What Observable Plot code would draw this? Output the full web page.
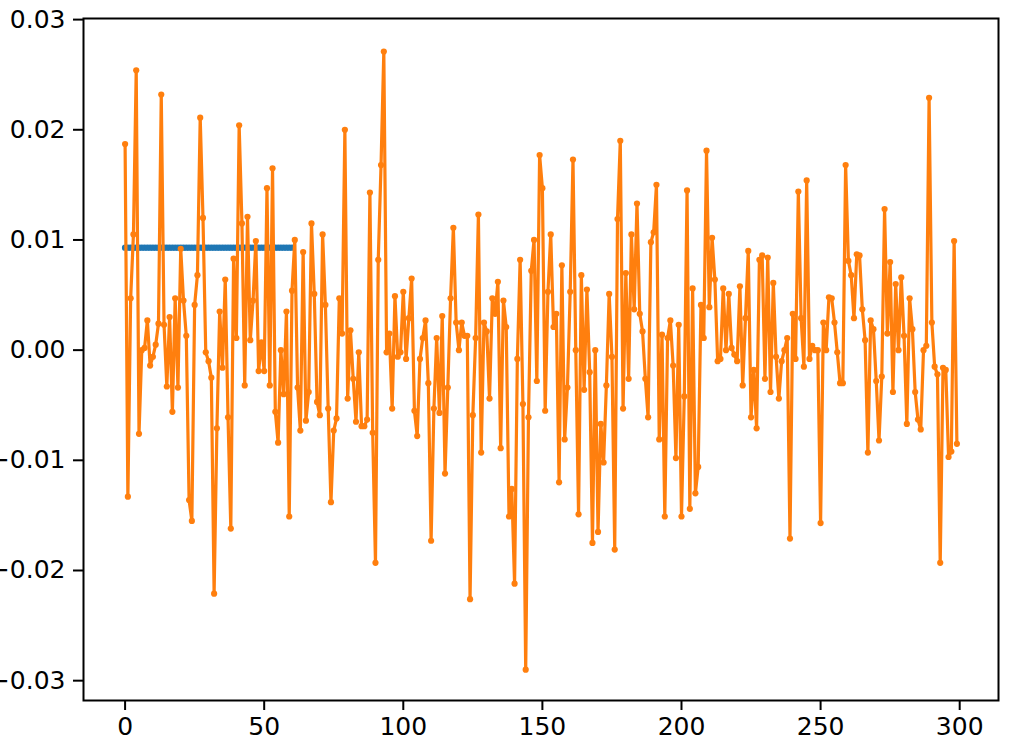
<!DOCTYPE html>
<html>
<head>
<meta charset="utf-8">
<script src="https://cdn.jsdelivr.net/npm/d3@7"></script>
<script src="https://cdn.jsdelivr.net/npm/@observablehq/plot@0.6"></script>
<style>
  html, body { margin: 0; padding: 0; background: white; }
  #chart { width: 1035px; height: 747px; overflow: hidden; }
</style>
</head>
<body>
<div id="chart"></div>
<script>
// Orange series: values for x = 0 .. 299
const orangeY = [
  0.0187, -0.0133, 0.0047, 0.0105, 0.0254, -0.0076, 0.0, 0.0002, 0.0027, -0.0014,
  -0.0006, 0.0005, 0.0024, 0.0232, 0.0023, -0.0033, 0.003, -0.0056, 0.0047, -0.0034,
  0.0092, 0.0045, 0.0013, -0.0136, -0.0155, 0.0041, 0.0068, 0.0211, 0.012, -0.0002,
  -0.001, -0.0025, -0.0221, -0.0071, 0.0035, -0.0016, 0.0064, -0.0061, -0.0162, 0.0083,
  0.0011, 0.0204, 0.0115, -0.0032, 0.0121, 0.0009, 0.0045, 0.0099, -0.0019, 0.0007,
  -0.0019, 0.0147, -0.0032, 0.0165, -0.0056, -0.0084, 0.0, -0.004, 0.0035, -0.0151,
  0.0054, 0.01, -0.0034, -0.0073, 0.0089, -0.0064, -0.0038, 0.0115, 0.0051, -0.0047,
  -0.0059, 0.0105, 0.0041, -0.0053, -0.0138, -0.0073, -0.0062, 0.0047, 0.0015, 0.02,
  -0.0044, 0.0018, -0.0026, -0.0065, -0.0002, -0.0069, -0.0069, -0.0063, 0.0143, -0.0075,
  -0.0193, 0.0082, 0.0168, 0.0271, -0.0002, 0.0015, -0.0053, 0.0049, -0.0006, -0.0002,
  0.0053, -0.0008, 0.0029, 0.0065, -0.0055, -0.0078, -0.0008, 0.0011, 0.0027, -0.003,
  -0.0173, -0.0053, 0.0011, -0.0057, 0.0031, -0.0112, -0.0034, 0.0047, 0.0111, 0.0025,
  0.0, 0.0025, 0.0013, 0.0013, -0.0226, -0.0059, 0.0011, 0.0123, -0.0093, 0.0025,
  0.0017, -0.0044, 0.0047, 0.0033, 0.0062, -0.0089, 0.0045, 0.0021, -0.0151, -0.0126,
  -0.0212, -0.0008, 0.0082, -0.0049, -0.029, -0.0061, 0.0072, 0.01, -0.0028, 0.0177,
  0.0147, -0.0055, 0.0053, 0.0105, 0.0021, 0.0033, -0.012, 0.0077, -0.0081, -0.0034,
  0.0053, 0.0173, 0.0, -0.0149, 0.0068, -0.0036, 0.0055, -0.002, -0.0175, 0.0,
  -0.0165, -0.0067, -0.0102, -0.0032, 0.0051, -0.0006, -0.0181, 0.0119, 0.019, -0.0053,
  0.007, -0.0026, 0.0105, 0.0037, 0.0133, 0.0033, 0.0017, -0.0026, -0.0061, 0.0098,
  0.0107, 0.015, -0.0081, 0.0014, -0.0151, 0.0011, 0.0027, -0.0014, -0.0098, 0.0023,
  -0.0151, -0.0042, 0.0145, -0.0144, 0.0056, -0.013, -0.0106, 0.0041, 0.0011, 0.0181,
  0.0039, 0.0102, 0.0064, -0.001, -0.0008, 0.0056, 0.0, 0.0051, 0.0002, -0.0004,
  -0.001, 0.0058, -0.0032, 0.0029, 0.009, -0.0061, -0.0018, -0.0071, 0.0082, 0.0086,
  -0.0026, 0.0084, -0.0038, 0.0061, -0.0006, -0.0044, -0.001, 0.0, 0.0011, -0.0171,
  0.0033, -0.0008, 0.0144, 0.0029, -0.0015, 0.0154, -0.0008, 0.0004, 0.0, 0.0,
  -0.0157, 0.0025, 0.0, 0.0048, 0.0047, 0.0025, -0.0002, -0.003, -0.003, 0.0168,
  0.0081, 0.0068, 0.0029, 0.0087, 0.0086, 0.0037, 0.0009, -0.0093, 0.0027, 0.0019,
  -0.0028, -0.0082, -0.0024, 0.0128, 0.0015, 0.008, -0.0038, 0.006, 0.0, 0.0066,
  0.0013, -0.0067, 0.0047, 0.0019, -0.0038, -0.0063, -0.0072, 0.0, 0.0004, 0.0229,
  0.0025, -0.0015, -0.0022, -0.0193, -0.0016, -0.0018, -0.0097, -0.0092, 0.0099, -0.0085
];
const orangeX = orangeY.map((_, i) => i);

// Blue series: flat segment for x = 0 .. 60
const blueY = [
  0.0093, 0.0093, 0.0093, 0.0093, 0.0093, 0.0093, 0.0093, 0.0093, 0.0093, 0.0093,
  0.0093, 0.0093, 0.0093, 0.0093, 0.0093, 0.0093, 0.0093, 0.0093, 0.0093, 0.0093,
  0.0093, 0.0093, 0.0093, 0.0093, 0.0093, 0.0093, 0.0093, 0.0093, 0.0093, 0.0093,
  0.0093, 0.0093, 0.0093, 0.0093, 0.0093, 0.0093, 0.0093, 0.0093, 0.0093, 0.0093,
  0.0093, 0.0093, 0.0093, 0.0093, 0.0093, 0.0093, 0.0093, 0.0093, 0.0093, 0.0093,
  0.0093, 0.0093, 0.0093, 0.0093, 0.0093, 0.0093, 0.0093, 0.0093, 0.0093, 0.0093,
  0.0093
];
const blueX = blueY.map((_, i) => i);

const xTicks = [0, 50, 100, 150, 200, 250, 300];
const yTicks = [-0.03, -0.02, -0.01, 0.0, 0.01, 0.02, 0.03];

const orange = orangeX.map((x, i) => ({x, y: orangeY[i]}));
const blue = blueX.map((x, i) => ({x, y: blueY[i]}));

const fmtY = d => {
  const s = Math.abs(d).toFixed(2);
  return (d < -1e-9 ? "\u2212" : "") + s;
};

const chart = Plot.plot({
  width: 1035,
  height: 747,
  marginLeft: 83,
  marginRight: 37,
  marginTop: 18,
  marginBottom: 47,
  style: {fontFamily: "'DejaVu Sans', sans-serif", fontSize: "25px", background: "white", color: "black"},
  x: {domain: [-14.95, 313.95]},
  y: {domain: [-0.0318, 0.0301]},
  marks: [
    Plot.line(blue, {x: "x", y: "y", stroke: "#1f77b4", strokeWidth: 3.6}),
    Plot.dot(blue, {x: "x", y: "y", fill: "#1f77b4", r: 3.2, stroke: null}),
    Plot.line(orange, {x: "x", y: "y", stroke: "#ff7f0e", strokeWidth: 3.2, strokeLinejoin: "round"}),
    Plot.dot(orange, {x: "x", y: "y", fill: "#ff7f0e", r: 3.1, stroke: null}),
    Plot.axisX({ticks: xTicks, tickSize: 10, tickPadding: 7, strokeWidth: 2, label: null, tickFormat: d => String(d), fontSize: 25}),
    Plot.axisY({ticks: yTicks, tickSize: 10, tickPadding: 8, strokeWidth: 2, label: null, tickFormat: fmtY, fontSize: 25}),
    Plot.frame({stroke: "black", strokeWidth: 2})
  ]
});
document.getElementById("chart").appendChild(chart);
</script>
</body>
</html>
